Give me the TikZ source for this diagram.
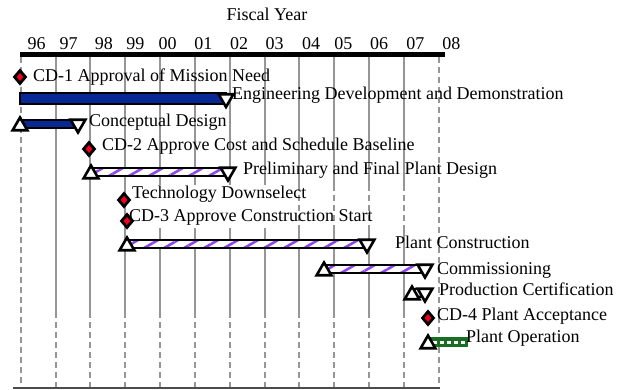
\documentclass[tikz,border=0pt]{standalone}
\usepackage{fontspec}
\setmainfont{Liberation Serif}
\usetikzlibrary{shapes.geometric,patterns.meta}
\definecolor{ink}{RGB}{0,0,0}
\definecolor{rule}{RGB}{150,150,150}
\definecolor{barblue}{RGB}{8,40,150}
\definecolor{hatch}{RGB}{145,70,235}
\definecolor{opgreen}{RGB}{25,110,35}
\definecolor{msred}{RGB}{240,0,30}
\newcommand{\chartsize}{\fontsize{18}{21}\selectfont}
\tikzset{
  txt/.style={anchor=base west,inner sep=0pt,font=\chartsize},
  yr/.style={anchor=base,inner sep=0pt,font=\chartsize},
  ms/.style={diamond,draw=ink,line width=2.8pt,fill=msred,minimum width=12pt,minimum height=14pt,inner sep=0pt},
  solidbar/.style={draw=ink,line width=2.6pt,fill=barblue},
  hatchbar/.style={draw=ink,line width=2.6pt,preaction={fill=white},
    pattern={Lines[angle=30,distance=10pt,line width=2.6pt]},pattern color=hatch},
  greenbar/.style={draw=opgreen,line width=1.5pt,fill=opgreen},
  tri/.style={regular polygon,regular polygon sides=3,draw=ink,line width=2.6pt,fill=white,
    minimum size=17pt,inner sep=0pt},
  upmk/.style={tri},
  dnmk/.style={tri,shape border rotate=180},
  gsolid/.style={rule,line width=2pt},
  gdash/.style={rule,line width=2pt,dash pattern=on 6pt off 4pt},
}

\begin{document}
\begin{tikzpicture}[x=1pt,y=-1pt]
\useasboundingbox (0,0) rectangle (619,389);

% year rules
\draw[gdash] (20.7,57) -- (20.7,388);
\draw[gdash] (438.7,57) -- (438.7,388);
\foreach \k [evaluate=\k as \gx using 20.7+34.83*\k] in {1,...,11}{
  \draw[gsolid] (\gx,57) -- (\gx,185);
  \draw[gsolid] (\gx,228) -- (\gx,312);
  \draw[gdash] (\gx,312) -- (\gx,388);
}
\foreach \k [evaluate=\k as \gx using 20.7+34.83*\k] in {1,2,3}
  \draw[gsolid] (\gx,185) -- (\gx,228);
\foreach \k [evaluate=\k as \gx using 20.7+34.83*\k] in {8,...,11}
  \draw[gdash] (\gx,185) -- (\gx,228);

\draw[ink,line width=4.5pt] (20,54.5) -- (445,54.5);
\draw[ink!70,line width=1.2pt] (13,388) -- (440,388);

\node[yr] (fy) at (267,20.7) {Fiscal Year};
\foreach \cx/\lab in {36.7/96,68.7/97,103.8/98,135.3/99,167.5/00,203.3/01,239.2/02,
  274.5/03,311/04,343.3/05,379.2/06,415.3/07,451.3/08}
  \node[yr] (y\lab) at (\cx,49.3) {\lab};

% tasks and milestones
\node[ms] (cd1) at (20,77) {};
\node[txt] (cd1t) at (33,81.7) {CD-1 Approval of Mission Need};

\draw[solidbar] (20,93) rectangle (226,104);
\node[dnmk] (engE) at (226,98.5) {};
\node[txt] (engt) at (232,99.3) {Engineering Development and Demonstration};

\draw[solidbar] (20,120) rectangle (78,128);
\node[upmk] (cdsS) at (20,126) {};
\node[dnmk] (cdsE) at (78,124) {};
\node[txt] (cdst) at (89,126.7) {Conceptual Design};

\node[ms] (cd2) at (89,149) {};
\node[txt] (cd2t) at (102,150) {CD-2 Approve Cost and Schedule Baseline};

\draw[hatchbar] (91,168) rectangle (228,176);
\node[upmk] (preS) at (91,174) {};
\node[dnmk] (preE) at (228,172) {};
\node[txt] (pret) at (243,174.3) {Preliminary and Final Plant Design};

\node[ms] (dsel) at (124,200) {};
\node[txt] (dselt) at (132,198.3) {Technology Downselect};

\node[ms] (cd3) at (127,221) {};
\node[txt] (cd3t) at (129,221.7) {CD-3 Approve Construction Start};

\draw[hatchbar] (127,240) rectangle (367,248);
\node[upmk] (cstS) at (127,246) {};
\node[dnmk] (cstE) at (367,244) {};
\node[txt] (cstt) at (395,248.3) {Plant Construction};

\draw[hatchbar] (324,265) rectangle (425,273);
\node[upmk] (comS) at (324,271) {};
\node[dnmk] (comE) at (425,269) {};
\node[txt] (comt) at (437,274) {Commissioning};

\draw[hatchbar] (412,289) rectangle (425,297);
\node[upmk] (prdS) at (412,295) {};
\node[dnmk] (prdE) at (425,293) {};
\node[txt] (prdt) at (439,295) {Production Certification};

\node[ms] (cd4) at (428,318) {};
\node[txt] (cd4t) at (437,320) {CD-4 Plant Acceptance};

\draw[greenbar] (430,338) rectangle (467,346);
\draw[white,line width=3pt,dash pattern=on 4pt off 3pt] (433,342) -- (466,342);
\node[upmk] (opS) at (428,344) {};
\node[txt] (opt) at (466,342.7) {Plant Operation};
\end{tikzpicture}
\end{document}
